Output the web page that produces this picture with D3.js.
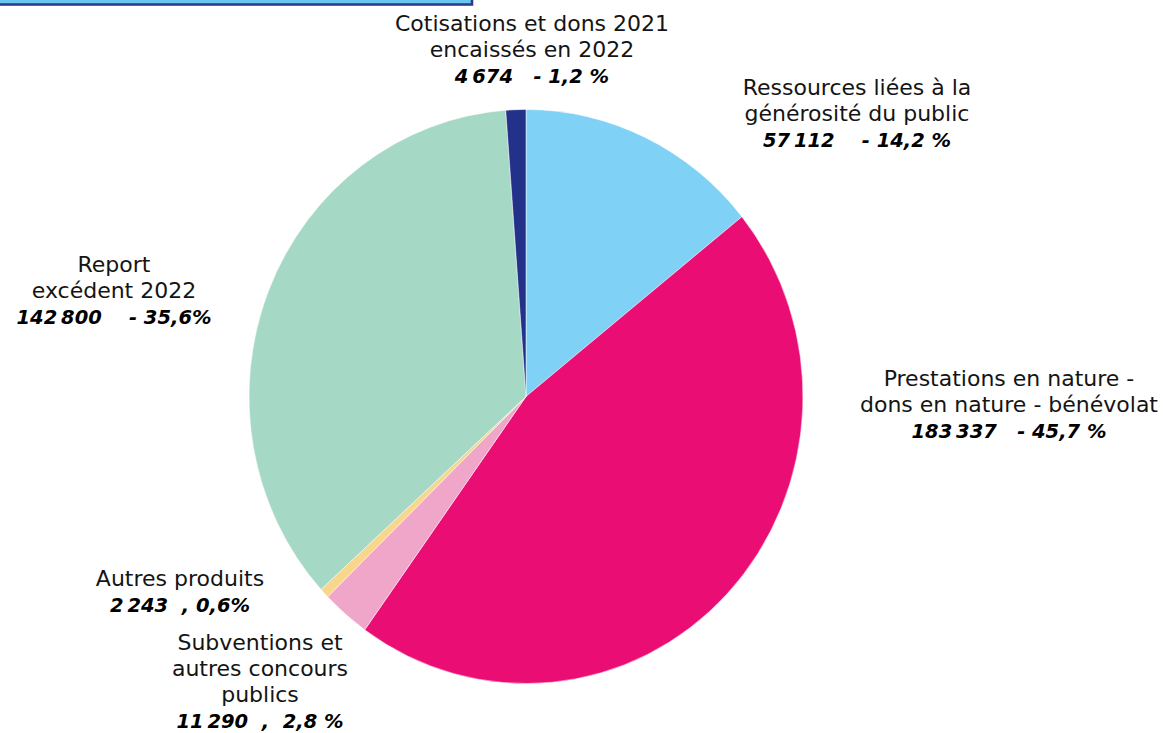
<!DOCTYPE html>
<html lang="fr">
<head>
<meta charset="utf-8">
<script src="https://cdn.jsdelivr.net/npm/d3@7"></script>
<style>
  html, body { margin: 0; padding: 0; background: #fff; }
  svg { display: block; }
  .lbl { font-family: "DejaVu Sans", "Noto Sans", sans-serif; fill: #141414; }
  .num { font-weight: 700; font-style: italic; fill: #000; }
</style>
</head>
<body>
<svg id="chart" width="1169" height="733"></svg>
<script>
// Ressources 2022 : répartition par origine (en euros)
const categories = [
  ["Ressources liées à la", "générosité du public"],
  ["Prestations en nature -", "dons en nature - bénévolat"],
  ["Subventions et", "autres concours", "publics"],
  ["Autres produits"],
  ["Report", "excédent 2022"],
  ["Cotisations et dons 2021", "encaissés en 2022"]
];
const values = [57112, 183337, 11290, 2243, 142800, 4674];
const colors = ["#7fd1f5", "#ea0d73", "#efa6c9", "#f8d68c", "#a6d9c5", "#243189"];
const separators = ["    - ", "   - ", "  ,  ", "  , ", "    - ", "   - "];
const percentSigns = [" %", " %", " %", "%", "%", " %"];

// label anchors (first baseline), relative to the pie centre
const labelLayout = [
  { dx: 331, dy: -302 },
  { dx: 483, dy: -11 },
  { dx: -266, dy: 253 },
  { dx: -346, dy: 189 },
  { dx: -412, dy: -125 },
  { dx: 6, dy: -366 }
];

const W = 1169, H = 733;
const cx = 526, cy = 396.5, R = 287, squeeze = 0.965;
const lineH = 26;

const svg = d3.select("#chart");

// header band cut by the top edge
svg.append("rect")
  .attr("x", -4).attr("y", -30)
  .attr("width", 476).attr("height", 34.5)
  .attr("fill", "#69c6ef")
  .attr("stroke", "#2f3b8e")
  .attr("stroke-width", 2.6);

const fr = d3.formatLocale({ decimal: ",", thousands: "\u202f", grouping: [3], currency: ["", " €"] });
const fmtInt = fr.format(",d");
const fmtPct = fr.format(".1f");
const total = d3.sum(values);

const pie = d3.pie().sort(null).value(d => d).startAngle(0).endAngle(2 * Math.PI);
const arcs = pie(values);
const arc = d3.arc().innerRadius(0).outerRadius(R);

const g = svg.append("g")
  .attr("transform", `translate(${cx},${cy}) scale(${squeeze},1)`);

g.selectAll("path.slice")
  .data(arcs)
  .join("path")
  .attr("class", "slice")
  .attr("d", arc)
  .attr("fill", (d, i) => colors[i])
  .attr("stroke", "#ffffff")
  .attr("stroke-opacity", 0.55)
  .attr("stroke-width", 0.9);

// text labels, one text element per line
const labels = svg.append("g");
categories.forEach((lines, i) => {
  const x = cx + labelLayout[i].dx;
  const y0 = cy + labelLayout[i].dy;
  lines.forEach((s, k) => {
    labels.append("text")
      .attr("class", "lbl")
      .attr("text-anchor", "middle")
      .attr("font-size", 22)
      .attr("x", x).attr("y", y0 + k * lineH)
      .text(s);
  });
  const pct = fmtPct(values[i] / total * 100);
  labels.append("text")
    .attr("class", "lbl num")
    .attr("text-anchor", "middle")
    .attr("font-size", 19.5)
    .attr("xml:space", "preserve")
    .style("white-space", "pre")
    .attr("x", x)
    .attr("y", y0 + lines.length * lineH)
    .text(fmtInt(values[i]) + separators[i] + pct + percentSigns[i]);
});
</script>
</body>
</html>
